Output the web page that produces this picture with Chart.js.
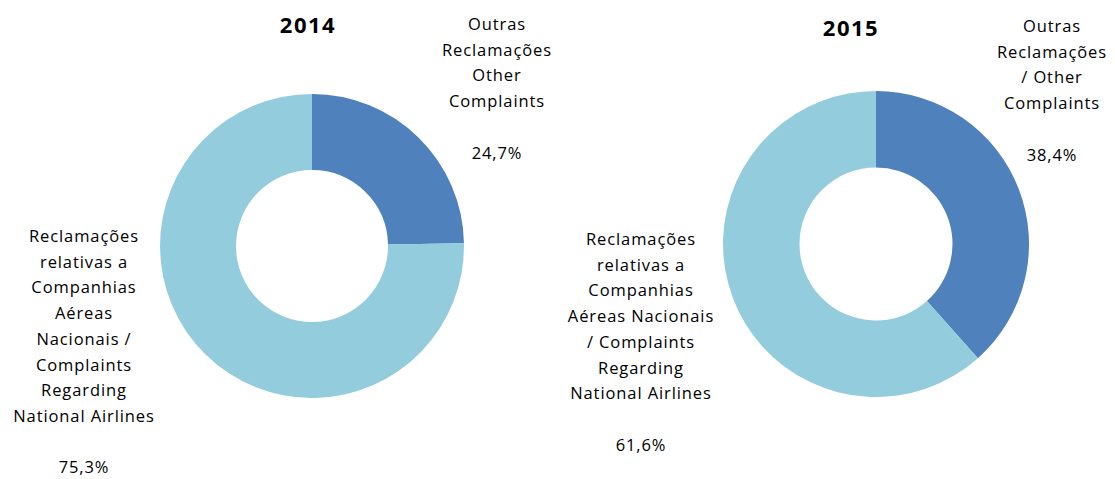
<!DOCTYPE html>
<html>
<head>
<meta charset="utf-8">
<script src="https://cdn.jsdelivr.net/npm/chart.js@4.4.0/dist/chart.umd.min.js"></script>
<style>
  body { margin: 0; background: #fff; width: 1115px; height: 479px; position: relative; overflow: hidden;
         font-family: "Open Sans", sans-serif; color: #000; }
  canvas { position: absolute; }
  .lbl { position: absolute; text-align: center; font-size: 16.5px; letter-spacing: 0.9px; line-height: 25.7px; white-space: pre; transform: translateX(-50%); }
  .title { position: absolute; font-weight: bold; font-size: 22px; letter-spacing: 1.5px; transform: translateX(-50%); }
</style>
</head>
<body>
<div class="title" id="t1" style="left:308px; top:9px;"></div>
<div class="title" id="t2" style="left:851px; top:12px;"></div>
<div class="lbl" id="a1" style="left:497px; top:11px;"></div>
<div class="lbl" id="b1" style="left:84px; top:223px;"></div>
<div class="lbl" id="a2" style="left:1052px; top:13px;"></div>
<div class="lbl" id="b2" style="left:641px; top:226px;"></div>
<canvas id="c2014" width="304" height="304" style="left:160px; top:94px;"></canvas>
<canvas id="c2015" width="306" height="306" style="left:723px; top:91px;"></canvas>
<script>
// Data
const years = ["2014", "2015"];
const categories = ["Outras Reclamações / Other Complaints", "Reclamações relativas a Companhias Aéreas Nacionais / Complaints Regarding National Airlines"];
const values2014 = [24.7, 75.3];
const values2015 = [38.4, 61.6];
const colors = ["#4F81BD", "#93CDDD"];

// label text, as wrapped in the picture
const outras2014 = ["Outras", "Reclamações", "Other", "Complaints", ""];
const nacionais2014 = ["Reclamações", "relativas a", "Companhias", "Aéreas", "Nacionais /", "Complaints", "Regarding", "National Airlines", ""];
const outras2015 = ["Outras", "Reclamações", "/ Other", "Complaints", ""];
const nacionais2015 = ["Reclamações", "relativas a", "Companhias", "Aéreas Nacionais", "/ Complaints", "Regarding", "National Airlines", ""];

const pct = (v) => v.toFixed(1).replace(".", ",") + "%";

document.getElementById("t1").textContent = years[0];
document.getElementById("t2").textContent = years[1];
document.getElementById("a1").textContent = outras2014.concat([pct(values2014[0])]).join("\n");
document.getElementById("b1").textContent = nacionais2014.concat([pct(values2014[1])]).join("\n");
document.getElementById("a2").textContent = outras2015.concat([pct(values2015[0])]).join("\n");
document.getElementById("b2").textContent = nacionais2015.concat([pct(values2015[1])]).join("\n");

function makeConfig(values) {
  return {
    type: "doughnut",
    data: {
      labels: categories,
      datasets: [{ data: values, backgroundColor: colors, borderWidth: 0 }],
    },
    options: {
      responsive: false,
      animation: false,
      cutout: "50%",
      layout: { padding: 0 },
      plugins: { legend: { display: false }, tooltip: { enabled: false } },
    },
  };
}

const chart2014 = new Chart(document.getElementById("c2014"), makeConfig(values2014));
const chart2015 = new Chart(document.getElementById("c2015"), makeConfig(values2015));
</script>
</body>
</html>
